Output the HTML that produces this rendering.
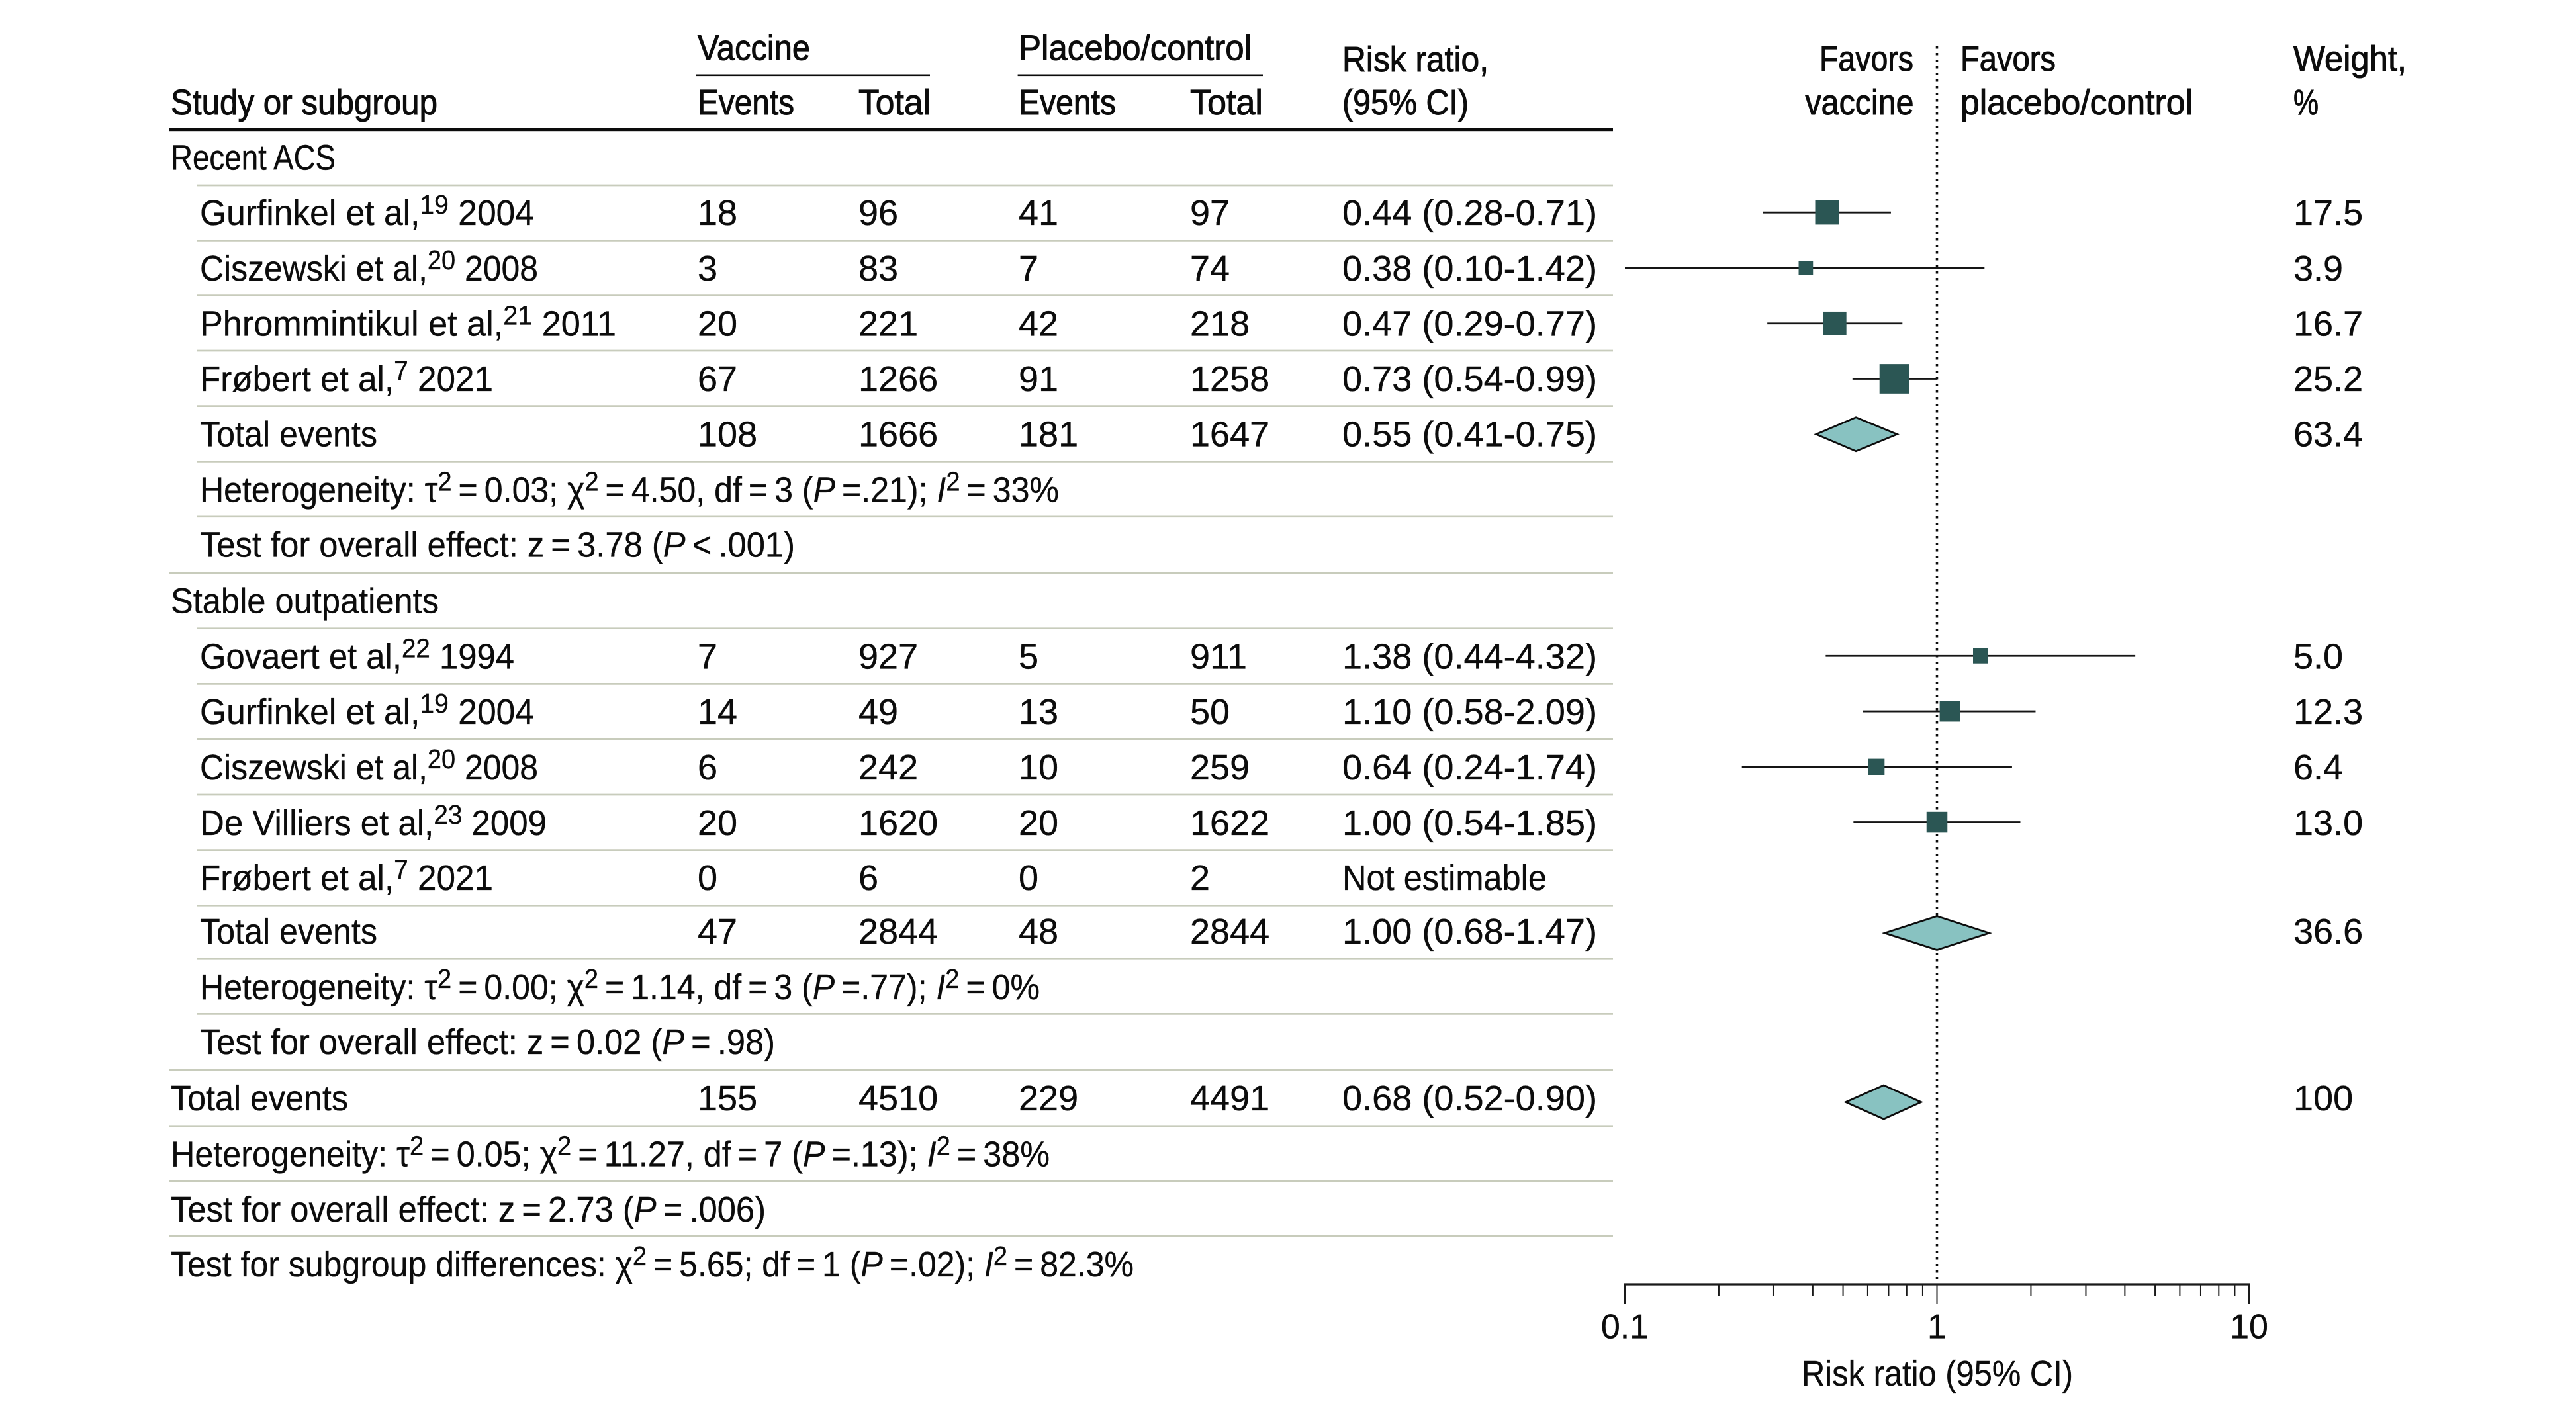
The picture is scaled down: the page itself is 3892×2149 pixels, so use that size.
<!DOCTYPE html>
<html lang="en">
<head>
<meta charset="utf-8">
<title>Forest plot: vaccine vs placebo/control</title>
<style>
html,body{margin:0;padding:0;background:#fff;}
svg{display:block;}
text{font-family:"Liberation Sans","DejaVu Sans",sans-serif;font-size:54px;fill:#0c0c0c;stroke:#0c0c0c;stroke-width:.35px;}
text.h{stroke-width:1px;}
text.ax{font-size:52px;}
.s{font-size:41px;}
.sep{stroke:#c8ccbc;stroke-width:2.7;}
</style>
</head>
<body>
<svg id="chart" xmlns="http://www.w3.org/2000/svg" width="3892" height="2149" viewBox="0 0 3892 2149">
<rect x="0" y="0" width="3892" height="2149" fill="#fff"/>

<g>
<text class="h" x="258" y="173" textLength="403" lengthAdjust="spacingAndGlyphs">Study or subgroup</text>
<text class="h" x="1054" y="90.7" textLength="170" lengthAdjust="spacingAndGlyphs">Vaccine</text>
<rect x="1052" y="112.5" width="353" height="2.6" fill="#0c0c0c"/>
<text class="h" x="1054" y="173" textLength="146" lengthAdjust="spacingAndGlyphs">Events</text>
<text class="h" x="1297" y="173" textLength="109" lengthAdjust="spacingAndGlyphs">Total</text>
<text class="h" x="1539" y="90.7" textLength="352" lengthAdjust="spacingAndGlyphs">Placebo/control</text>
<rect x="1537.6" y="112.5" width="370.4" height="2.6" fill="#0c0c0c"/>
<text class="h" x="1539" y="173" textLength="147" lengthAdjust="spacingAndGlyphs">Events</text>
<text class="h" x="1798" y="173" textLength="110" lengthAdjust="spacingAndGlyphs">Total</text>
<text class="h" x="2028" y="108" textLength="221" lengthAdjust="spacingAndGlyphs">Risk ratio,</text>
<text class="h" x="2028" y="173" textLength="191" lengthAdjust="spacingAndGlyphs">(95% CI)</text>
<text class="h" x="2749" y="107" textLength="142" lengthAdjust="spacingAndGlyphs">Favors</text>
<text class="h" x="2727.5" y="172.8" textLength="164" lengthAdjust="spacingAndGlyphs">vaccine</text>
<text class="h" x="2962" y="107" textLength="144" lengthAdjust="spacingAndGlyphs">Favors</text>
<text class="h" x="2962" y="172.8" textLength="351" lengthAdjust="spacingAndGlyphs">placebo/control</text>
<text class="h" x="3465" y="107" textLength="171" lengthAdjust="spacingAndGlyphs">Weight,</text>
<text class="h" x="3465" y="172.8" textLength="38" lengthAdjust="spacingAndGlyphs">%</text>
<rect x="256" y="193.2" width="2181" height="5" fill="#0c0c0c"/>
</g>

<g>
<line class="sep" x1="298" x2="2437" y1="280" y2="280"/>
<line class="sep" x1="298" x2="2437" y1="363.4" y2="363.4"/>
<line class="sep" x1="298" x2="2437" y1="446.6" y2="446.6"/>
<line class="sep" x1="298" x2="2437" y1="530" y2="530"/>
<line class="sep" x1="298" x2="2437" y1="613.6" y2="613.6"/>
<line class="sep" x1="298" x2="2437" y1="697.4" y2="697.4"/>
<line class="sep" x1="298" x2="2437" y1="780.8" y2="780.8"/>
<line class="sep" x1="256" x2="2437" y1="865.7" y2="865.7"/>
<line class="sep" x1="298" x2="2437" y1="949.7" y2="949.7"/>
<line class="sep" x1="298" x2="2437" y1="1033.4" y2="1033.4"/>
<line class="sep" x1="298" x2="2437" y1="1117.3" y2="1117.3"/>
<line class="sep" x1="298" x2="2437" y1="1201" y2="1201"/>
<line class="sep" x1="298" x2="2437" y1="1284.6" y2="1284.6"/>
<line class="sep" x1="298" x2="2437" y1="1368.3" y2="1368.3"/>
<line class="sep" x1="298" x2="2437" y1="1449.3" y2="1449.3"/>
<line class="sep" x1="298" x2="2437" y1="1532.4" y2="1532.4"/>
<line class="sep" x1="256" x2="2437" y1="1617.3" y2="1617.3"/>
<line class="sep" x1="256" x2="2437" y1="1701.7" y2="1701.7"/>
<line class="sep" x1="256" x2="2437" y1="1785" y2="1785"/>
<line class="sep" x1="256" x2="2437" y1="1868" y2="1868"/>
</g>

<g>
<text x="258" y="256.7" textLength="249" lengthAdjust="spacingAndGlyphs">Recent ACS</text>

<g>
<text x="302" y="340" textLength="505" lengthAdjust="spacingAndGlyphs">Gurfinkel et al,<tspan dy="-17" class="s">19</tspan><tspan dy="17"> 2004</tspan></text>
<text x="1054" y="340">18</text>
<text x="1297" y="340">96</text>
<text x="1539" y="340">41</text>
<text x="1798" y="340">97</text>
<text x="2028" y="340" textLength="385" lengthAdjust="spacingAndGlyphs">0.44 (0.28-0.71)</text>
<text x="3465" y="340">17.5</text>
</g>
<g>
<text x="302" y="424" textLength="511" lengthAdjust="spacingAndGlyphs">Ciszewski et al,<tspan dy="-17" class="s">20</tspan><tspan dy="17"> 2008</tspan></text>
<text x="1054" y="424">3</text>
<text x="1297" y="424">83</text>
<text x="1539" y="424">7</text>
<text x="1798" y="424">74</text>
<text x="2028" y="424" textLength="385" lengthAdjust="spacingAndGlyphs">0.38 (0.10-1.42)</text>
<text x="3465" y="424">3.9</text>
</g>
<g>
<text x="302" y="507.5" textLength="629" lengthAdjust="spacingAndGlyphs">Phrommintikul et al,<tspan dy="-17" class="s">21</tspan><tspan dy="17"> 2011</tspan></text>
<text x="1054" y="507.5">20</text>
<text x="1297" y="507.5">221</text>
<text x="1539" y="507.5">42</text>
<text x="1798" y="507.5">218</text>
<text x="2028" y="507.5" textLength="385" lengthAdjust="spacingAndGlyphs">0.47 (0.29-0.77)</text>
<text x="3465" y="507.5">16.7</text>
</g>
<g>
<text x="302" y="591" textLength="443" lengthAdjust="spacingAndGlyphs">Frøbert et al,<tspan dy="-17" class="s">7</tspan><tspan dy="17"> 2021</tspan></text>
<text x="1054" y="591">67</text>
<text x="1297" y="591">1266</text>
<text x="1539" y="591">91</text>
<text x="1798" y="591">1258</text>
<text x="2028" y="591" textLength="385" lengthAdjust="spacingAndGlyphs">0.73 (0.54-0.99)</text>
<text x="3465" y="591">25.2</text>
</g>
<g>
<text x="302" y="674.5" textLength="268" lengthAdjust="spacingAndGlyphs">Total events</text>
<text x="1054" y="674.5">108</text>
<text x="1297" y="674.5">1666</text>
<text x="1539" y="674.5">181</text>
<text x="1798" y="674.5">1647</text>
<text x="2028" y="674.5" textLength="385" lengthAdjust="spacingAndGlyphs">0.55 (0.41-0.75)</text>
<text x="3465" y="674.5">63.4</text>
</g>
<text x="302" y="758.5" textLength="1298" lengthAdjust="spacingAndGlyphs">Heterogeneity: τ<tspan dy="-17" class="s">2</tspan><tspan dy="17">&#8201;=&#8201;0.03; χ</tspan><tspan dy="-17" class="s">2</tspan><tspan dy="17">&#8201;=&#8201;4.50, df&#8201;=&#8201;3 (</tspan><tspan font-style="italic">P</tspan>&#8201;=.21); <tspan font-style="italic">I</tspan><tspan dy="-17" class="s">2</tspan><tspan dy="17">&#8201;=&#8201;33%</tspan></text>
<text x="302" y="841.7" textLength="899" lengthAdjust="spacingAndGlyphs">Test for overall effect: z&#8201;=&#8201;3.78 (<tspan font-style="italic">P</tspan>&#8201;&lt;&#8201;.001)</text>

<text x="258" y="926.7" textLength="405" lengthAdjust="spacingAndGlyphs">Stable outpatients</text>

<g>
<text x="302" y="1010.7" textLength="475" lengthAdjust="spacingAndGlyphs">Govaert et al,<tspan dy="-17" class="s">22</tspan><tspan dy="17"> 1994</tspan></text>
<text x="1054" y="1010.7">7</text>
<text x="1297" y="1010.7">927</text>
<text x="1539" y="1010.7">5</text>
<text x="1798" y="1010.7">911</text>
<text x="2028" y="1010.7" textLength="385" lengthAdjust="spacingAndGlyphs">1.38 (0.44-4.32)</text>
<text x="3465" y="1010.7">5.0</text>
</g>
<g>
<text x="302" y="1094" textLength="505" lengthAdjust="spacingAndGlyphs">Gurfinkel et al,<tspan dy="-17" class="s">19</tspan><tspan dy="17"> 2004</tspan></text>
<text x="1054" y="1094">14</text>
<text x="1297" y="1094">49</text>
<text x="1539" y="1094">13</text>
<text x="1798" y="1094">50</text>
<text x="2028" y="1094" textLength="385" lengthAdjust="spacingAndGlyphs">1.10 (0.58-2.09)</text>
<text x="3465" y="1094">12.3</text>
</g>
<g>
<text x="302" y="1178" textLength="511" lengthAdjust="spacingAndGlyphs">Ciszewski et al,<tspan dy="-17" class="s">20</tspan><tspan dy="17"> 2008</tspan></text>
<text x="1054" y="1178">6</text>
<text x="1297" y="1178">242</text>
<text x="1539" y="1178">10</text>
<text x="1798" y="1178">259</text>
<text x="2028" y="1178" textLength="385" lengthAdjust="spacingAndGlyphs">0.64 (0.24-1.74)</text>
<text x="3465" y="1178">6.4</text>
</g>
<g>
<text x="302" y="1262" textLength="524" lengthAdjust="spacingAndGlyphs">De Villiers et al,<tspan dy="-17" class="s">23</tspan><tspan dy="17"> 2009</tspan></text>
<text x="1054" y="1262">20</text>
<text x="1297" y="1262">1620</text>
<text x="1539" y="1262">20</text>
<text x="1798" y="1262">1622</text>
<text x="2028" y="1262" textLength="385" lengthAdjust="spacingAndGlyphs">1.00 (0.54-1.85)</text>
<text x="3465" y="1262">13.0</text>
</g>
<g>
<text x="302" y="1345" textLength="443" lengthAdjust="spacingAndGlyphs">Frøbert et al,<tspan dy="-17" class="s">7</tspan><tspan dy="17"> 2021</tspan></text>
<text x="1054" y="1345">0</text>
<text x="1297" y="1345">6</text>
<text x="1539" y="1345">0</text>
<text x="1798" y="1345">2</text>
<text x="2028" y="1345" textLength="309" lengthAdjust="spacingAndGlyphs">Not estimable</text>
</g>
<g>
<text x="302" y="1426" textLength="268" lengthAdjust="spacingAndGlyphs">Total events</text>
<text x="1054" y="1426">47</text>
<text x="1297" y="1426">2844</text>
<text x="1539" y="1426">48</text>
<text x="1798" y="1426">2844</text>
<text x="2028" y="1426" textLength="385" lengthAdjust="spacingAndGlyphs">1.00 (0.68-1.47)</text>
<text x="3465" y="1426">36.6</text>
</g>
<text x="302" y="1510" textLength="1269" lengthAdjust="spacingAndGlyphs">Heterogeneity: τ<tspan dy="-17" class="s">2</tspan><tspan dy="17">&#8201;=&#8201;0.00; χ</tspan><tspan dy="-17" class="s">2</tspan><tspan dy="17">&#8201;=&#8201;1.14, df&#8201;=&#8201;3 (</tspan><tspan font-style="italic">P</tspan>&#8201;=.77); <tspan font-style="italic">I</tspan><tspan dy="-17" class="s">2</tspan><tspan dy="17">&#8201;=&#8201;0%</tspan></text>
<text x="302" y="1593" textLength="869" lengthAdjust="spacingAndGlyphs">Test for overall effect: z&#8201;=&#8201;0.02 (<tspan font-style="italic">P</tspan>&#8201;=&#8201;.98)</text>

<g>
<text x="258" y="1678" textLength="268" lengthAdjust="spacingAndGlyphs">Total events</text>
<text x="1054" y="1678">155</text>
<text x="1297" y="1678">4510</text>
<text x="1539" y="1678">229</text>
<text x="1798" y="1678">4491</text>
<text x="2028" y="1678" textLength="385" lengthAdjust="spacingAndGlyphs">0.68 (0.52-0.90)</text>
<text x="3465" y="1678">100</text>
</g>
<text x="258" y="1762.7" textLength="1328" lengthAdjust="spacingAndGlyphs">Heterogeneity: τ<tspan dy="-17" class="s">2</tspan><tspan dy="17">&#8201;=&#8201;0.05; χ</tspan><tspan dy="-17" class="s">2</tspan><tspan dy="17">&#8201;=&#8201;11.27, df&#8201;=&#8201;7 (</tspan><tspan font-style="italic">P</tspan>&#8201;=.13); <tspan font-style="italic">I</tspan><tspan dy="-17" class="s">2</tspan><tspan dy="17">&#8201;=&#8201;38%</tspan></text>
<text x="258" y="1846" textLength="899" lengthAdjust="spacingAndGlyphs">Test for overall effect: z&#8201;=&#8201;2.73 (<tspan font-style="italic">P</tspan>&#8201;=&#8201;.006)</text>
<text x="258" y="1929" textLength="1455" lengthAdjust="spacingAndGlyphs">Test for subgroup differences: χ<tspan dy="-17" class="s">2</tspan><tspan dy="17">&#8201;=&#8201;5.65; df&#8201;=&#8201;1 (</tspan><tspan font-style="italic">P</tspan>&#8201;=.02); <tspan font-style="italic">I</tspan><tspan dy="-17" class="s">2</tspan><tspan dy="17">&#8201;=&#8201;82.3%</tspan></text>
</g>

<g id="plot"></g>
</svg>

<script>
// Study estimates (risk ratio with 95% CI, weight %) as read from the plot marks
const studyNames = ['gurfinkel-2004-acs','ciszewski-2008-acs','phrommintikul-2011','frobert-2021-acs','govaert-1994','gurfinkel-2004-stable','ciszewski-2008-stable','de-villiers-2009'];
const studyRows = [0,1,2,3,8,9,10,11];
const studyRatios = [0.445,0.38,0.47,0.73,1.38,1.10,0.64,1.00];
const studyLower = [0.277,0.10,0.286,0.536,0.44,0.58,0.237,0.54];
const studyUpper = [0.712,1.42,0.775,1.00,4.32,2.07,1.74,1.85];
const studyWeights = [17.5,3.9,16.7,25.2,5.0,12.3,6.4,13.0];
// Pooled estimates
const summaryNames = ['recent-acs','stable-outpatients','overall'];
const summaryRows = [4,13,16.05];
const summaryRatios = [0.55,1.00,0.675];
const summaryLower = [0.41,0.68,0.51];
const summaryUpper = [0.745,1.47,0.89];
// Axis
const majorTicks = [0.1,1,10];
const majorTickLabels = ['0.1','1','10'];
const minorTicks = [0.2,0.3,0.4,0.5,0.6,0.7,0.8,0.9,2,3,4,5,6,7,8,9];
const axisTitle = 'Risk ratio (95% CI)';

const NS = 'http://www.w3.org/2000/svg';
const plot = document.getElementById('plot');
const xAt1 = 2926.5, decade = 471.5, axisY = 1941;
function xScale(v){ return xAt1 + decade * Math.log10(v); }
function yScale(row){ return 321.2 + 83.76 * row; }
function sizeScale(w){ return 17.5 + 1.08 * w; }
function make(tag, attrs){
  const el = document.createElementNS(NS, tag);
  for (const k in attrs) el.setAttribute(k, attrs[k]);
  plot.appendChild(el);
  return el;
}

const refLine = make('line', {x1:xAt1, x2:xAt1, y1:70, y2:1933, stroke:'#0c0c0c', 'stroke-width':3.5, 'stroke-dasharray':'3.5 6.5'});



studyNames.forEach(function(name, i){
  const y = yScale(studyRows[i]);
  const ci = make('line', {x1:xScale(studyLower[i]), x2:xScale(studyUpper[i]), y1:y, y2:y, stroke:'#151515', 'stroke-width':2.8});
  
  
  const s = sizeScale(studyWeights[i]);
  const sq = make('rect', {x:xScale(studyRatios[i]) - s/2, y:y - s/2, width:s, height:s, fill:'#2b5654'});
  
  
});

summaryNames.forEach(function(name, i){
  const y = yScale(summaryRows[i]);
  const h = 25.5;
  const pts = [[xScale(summaryLower[i]), y],[xScale(summaryRatios[i]), y - h],[xScale(summaryUpper[i]), y],[xScale(summaryRatios[i]), y + h]];
  const d = make('polygon', {points:pts.map(function(p){return p.join(',');}).join(' '), fill:'#88c2c1', stroke:'#0c0c0c', 'stroke-width':2.8, 'stroke-linejoin':'miter'});
  
  
});

const axisLine = make('line', {x1:xScale(0.1) - 1, x2:xScale(10) + 1, y1:axisY, y2:axisY, stroke:'#1a1a1a', 'stroke-width':3.2});



minorTicks.forEach(function(v){
  const t = make('line', {x1:xScale(v), x2:xScale(v), y1:axisY, y2:axisY + 17, stroke:'#1a1a1a', 'stroke-width':2});
  
  
});

majorTicks.forEach(function(v, i){
  const t = make('line', {x1:xScale(v), x2:xScale(v), y1:axisY, y2:axisY + 29.5, stroke:'#1a1a1a', 'stroke-width':2});
  
  
  const label = make('text', {x:xScale(v), y:2022.6, 'text-anchor':'middle', 'class':'ax'});
  label.textContent = majorTickLabels[i];
  
  
});

const title = make('text', {x:2722, y:2094, textLength:410, lengthAdjust:'spacingAndGlyphs'});
title.textContent = axisTitle;


</script>
</body>
</html>
